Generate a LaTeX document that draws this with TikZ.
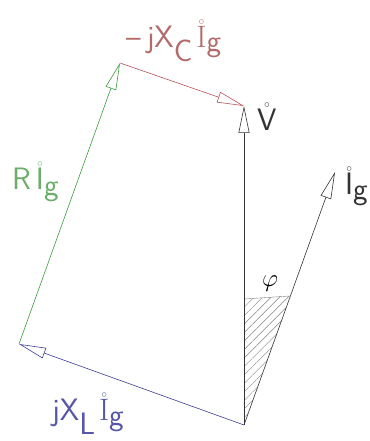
\documentclass[tikz,border=0pt]{standalone}
\usepackage{tikz}
\usetikzlibrary{arrows.meta,patterns.meta,calc}
\definecolor{linered}{HTML}{B8505A}
\definecolor{txtred}{HTML}{B46A6A}
\definecolor{linegreen}{HTML}{3E9A3E}
\definecolor{txtgreen}{HTML}{6AAE6A}
\definecolor{lineblue}{HTML}{3C3C96}
\definecolor{txtblue}{HTML}{5656A6}
\definecolor{inkgray}{HTML}{333333}
\newcommand{\ringed}[1]{$\mathring{\hbox{#1}}$}
\newcommand{\dn}[2]{\raisebox{-#1}{#2}}

\begin{document}
\begin{tikzpicture}[
  x=1pt, y=1pt,
  font=\sffamily\fontsize{31}{31}\selectfont,
  vec/.style  = {-{Triangle[open, length=27pt, width=11pt]}, line width=0.6pt},
  lbl/.style  = {inner sep=0pt, anchor=base west},
  hatch/.style= {pattern={Lines[angle=45, distance=6pt, line width=0.4pt]}, pattern color=gray},
]
\useasboundingbox (0,0) rectangle (369,441);

% ---------- phasor end points ---------------------------------------------------------------
\coordinate (o)  at (244,16);
\coordinate (v)  at (244,335);
\coordinate (ig) at (335,269);
\coordinate (xl) at (19,97);
\coordinate (ri) at (120,378);

% ---------- angle phi ------------------------------------------------------------------------
\coordinate (p1) at (244,142);
\coordinate (p2) at ($(o)!0.51!(ig)$);
\fill[hatch] (o) -- (p1) -- (p2) -- cycle;
\draw[gray, line width=0.4pt] (p1) -- (p2);
\node[font=\fontsize{24}{24}\selectfont, inner sep=0pt] (phi) at (270,157) {$\varphi$};

% ---------- phasors --------------------------------------------------------------------------
\draw[vec, draw=lineblue]  (o)  -- (xl);
\draw[vec, draw=linegreen] (xl) -- (ri);
\draw[vec, draw=linered]   (ri) -- (v);
\draw[vec, draw=inkgray]   (o)  -- (v);
\draw[vec, draw=inkgray]   (o)  -- (ig);

% ---------- labels ---------------------------------------------------------------------------
\node[lbl, text=txtred]   (xcl) at (126,393) {\textendash\hspace{6pt}jX\dn{14pt}{C}\hspace{4pt}\ringed{\rmfamily I}\dn{4pt}{g}};
\node[lbl, text=inkgray]  (vl)  at (257,310) {\ringed{V}};
\node[lbl, text=inkgray]  (igl) at (345,246) {\ringed{I}\dn{5pt}{g}};
\node[lbl, text=txtgreen] (ril) at (12,251)  {R\hspace{5pt}\ringed{I}\dn{6pt}{g}};
\node[lbl, text=txtblue]  (xll) at (52,20)   {jX\dn{14pt}{L}\hspace{4pt}\ringed{\rmfamily I}\dn{5pt}{g}};

\end{tikzpicture}
\end{document}
